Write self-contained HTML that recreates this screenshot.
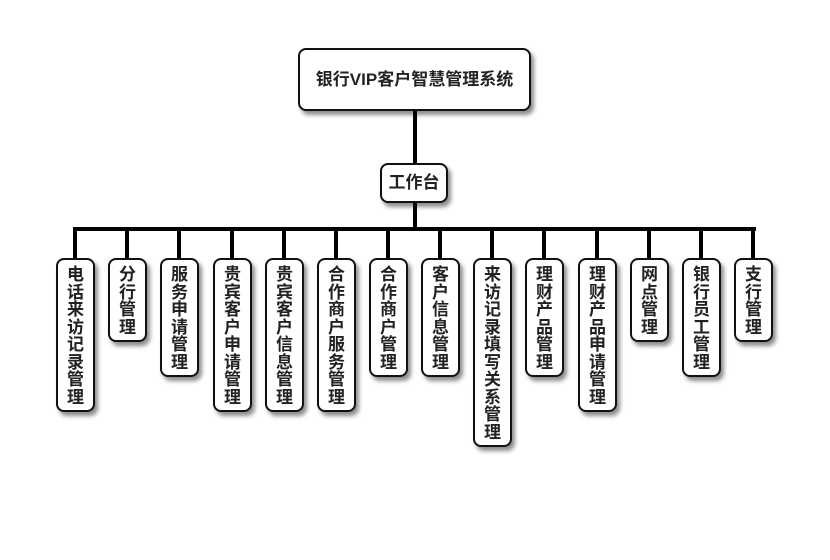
<!DOCTYPE html>
<html><head><meta charset="utf-8"><style>
body{margin:0;width:830px;height:560px;background:#fff;position:relative;overflow:hidden;font-family:"Liberation Sans","Noto Sans CJK SC",sans-serif;}
.b{position:absolute;background:#fff;border:2px solid #111;border-radius:8px;box-shadow:3px 4px 4px rgba(0,0,0,.45);box-sizing:border-box;font-weight:bold;color:#222;}
.v{width:39px;top:258px;font-size:17px;line-height:17.5px;text-align:center;padding-top:6px;}
.l{position:absolute;background:#000;}
</style></head><body>
<div class="l" style="left:413px;top:110px;width:4px;height:54px"></div>
<div class="l" style="left:413px;top:202px;width:4px;height:28px"></div>
<div class="l" style="left:73px;top:227px;width:683px;height:4px"></div>
<div class="b" style="left:298px;top:48px;width:233px;height:63px;font-size:17px;line-height:59px;text-align:center">银行VIP客户智慧管理系统</div>
<div class="b" style="left:380px;top:163px;width:68px;height:40px;font-size:17px;line-height:36px;text-align:center">工作台</div>
<div id="c"></div>
<script>
var d=[["电话来访记录管理",75],["分行管理",127],["服务申请管理",179],["贵宾客户申请管理",232],["贵宾客户信息管理",284],["合作商户服务管理",336],["合作商户管理",388],["客户信息管理",440],["来访记录填写关系管理",492],["理财产品管理",544],["理财产品申请管理",597],["网点管理",649],["银行员工管理",701],["支行管理",753]];
var h="";
d.forEach(function(a){var n=a[0].length;
h+='<div class="l" style="left:'+(a[1]-2)+'px;top:229px;width:4px;height:30px"></div>';
h+='<div class="b v" style="left:'+(a[1]-19)+'px;height:'+Math.round(n*17.5+14)+'px">'+a[0].split("").join("<br>")+'</div>';});
document.getElementById("c").innerHTML=h;
</script>
</body></html>
